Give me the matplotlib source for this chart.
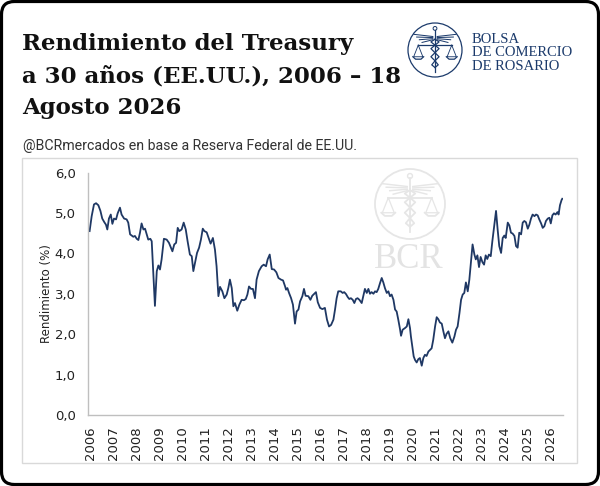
import numpy as np
import matplotlib
matplotlib.use('Agg')
import matplotlib.pyplot as plt
from matplotlib.patches import FancyBboxPatch, Rectangle, Circle
from matplotlib.transforms import ScaledTranslation

# fecha (año decimal) y rendimiento (%)
fecha_06_11 = [2006.07, 2006.16, 2006.26, 2006.35, 2006.45, 2006.54, 2006.62, 2006.71, 2006.78, 2006.84,
               2006.91, 2006.99, 2007.06, 2007.13, 2007.22, 2007.29, 2007.39, 2007.46, 2007.57, 2007.68,
               2007.75, 2007.83, 2007.90, 2007.97, 2008.04, 2008.12, 2008.19, 2008.26, 2008.33, 2008.41,
               2008.48, 2008.55, 2008.62, 2008.71, 2008.77, 2008.84, 2008.91, 2008.99, 2009.06, 2009.13,
               2009.20, 2009.30, 2009.42, 2009.52, 2009.67, 2009.75, 2009.83, 2009.90, 2009.97, 2010.07,
               2010.16, 2010.25, 2010.33, 2010.43, 2010.51, 2010.58, 2010.65, 2010.74, 2010.83, 2010.91,
               2010.99, 2011.06, 2011.16]
rend_06_11 = [4.55, 4.92, 5.21, 5.24, 5.19, 5.05, 4.86, 4.77, 4.71, 4.59,
              4.86, 4.96, 4.73, 4.86, 4.84, 4.99, 5.13, 4.96, 4.86, 4.84,
              4.76, 4.47, 4.44, 4.41, 4.43, 4.36, 4.33, 4.51, 4.74, 4.59,
              4.61, 4.47, 4.34, 4.36, 4.30, 3.52, 2.70, 3.56, 3.70, 3.60,
              3.85, 4.36, 4.34, 4.26, 4.05, 4.22, 4.26, 4.63, 4.55, 4.59,
              4.76, 4.59, 4.30, 3.97, 3.93, 3.56, 3.76, 4.01, 4.14, 4.34,
              4.61, 4.55, 4.52]

fecha_11_16 = [2011.33, 2011.43, 2011.52, 2011.59, 2011.67, 2011.74, 2011.84, 2011.93, 2012.03, 2012.10,
               2012.17, 2012.25, 2012.32, 2012.39, 2012.49, 2012.58, 2012.68, 2012.78, 2012.86, 2012.93,
               2013.00, 2013.09, 2013.17, 2013.26, 2013.33, 2013.43, 2013.55, 2013.64, 2013.74, 2013.81,
               2013.90, 2013.99, 2014.09, 2014.19, 2014.28, 2014.39, 2014.48, 2014.57, 2014.61, 2014.67,
               2014.74, 2014.83, 2014.91, 2015.00, 2015.07, 2015.15, 2015.22, 2015.32, 2015.39, 2015.46,
               2015.58, 2015.67, 2015.75, 2015.84, 2015.91, 2015.99, 2016.09, 2016.19, 2016.30, 2016.39,
               2016.48]
rend_11_16 = [4.24, 4.38, 4.09, 3.68, 2.94, 3.17, 3.06, 2.89, 2.98, 3.14,
              3.35, 3.14, 2.69, 2.77, 2.58, 2.73, 2.85, 2.84, 2.87, 2.98,
              3.18, 3.12, 3.12, 2.89, 3.35, 3.56, 3.68, 3.72, 3.68, 3.85,
              3.97, 3.61, 3.60, 3.53, 3.39, 3.35, 3.33, 3.18, 3.10, 3.14,
              3.02, 2.89, 2.73, 2.26, 2.56, 2.61, 2.81, 2.94, 3.12, 2.95,
              2.94, 2.85, 2.95, 3.00, 3.04, 2.79, 2.65, 2.62, 2.65, 2.36,
              2.19]

fecha_16_21 = [2016.57, 2016.67, 2016.74, 2016.81, 2016.88, 2016.99, 2017.07, 2017.14, 2017.22, 2017.29,
               2017.36, 2017.43, 2017.51, 2017.58, 2017.65, 2017.72, 2017.80, 2017.90, 2017.97, 2018.04,
               2018.12, 2018.19, 2018.26, 2018.33, 2018.41, 2018.48, 2018.55, 2018.62, 2018.70, 2018.77,
               2018.84, 2018.91, 2018.99, 2019.06, 2019.13, 2019.20, 2019.28, 2019.35, 2019.42, 2019.49,
               2019.57, 2019.61, 2019.68, 2019.78, 2019.86, 2019.93, 2020.00, 2020.04, 2020.10, 2020.16,
               2020.22, 2020.29, 2020.36, 2020.43, 2020.51, 2020.58, 2020.65, 2020.72, 2020.80, 2020.87,
               2020.94, 2021.01, 2021.09, 2021.16, 2021.23, 2021.30, 2021.38, 2021.45, 2021.52, 2021.59,
               2021.67]
rend_16_21 = [2.23, 2.36, 2.61, 2.89, 3.06, 3.06, 3.02, 3.04, 2.99, 2.92,
              2.87, 2.89, 2.85, 2.77, 2.87, 2.89, 2.85, 2.77, 2.94, 3.12,
              3.02, 3.12, 3.00, 3.04, 3.00, 3.06, 3.04, 3.12, 3.27, 3.39,
              3.28, 3.14, 3.02, 3.06, 2.94, 2.98, 2.85, 2.61, 2.56, 2.36,
              2.11, 1.96, 2.11, 2.15, 2.19, 2.37, 2.15, 1.94, 1.70, 1.45,
              1.36, 1.30, 1.38, 1.41, 1.22, 1.41, 1.49, 1.46, 1.57, 1.61,
              1.65, 1.86, 2.19, 2.42, 2.37, 2.29, 2.26, 2.07, 1.90, 2.01,
              2.07]

fecha_21_26 = [2021.75, 2021.84, 2021.93, 2022.00, 2022.07, 2022.15, 2022.22, 2022.29, 2022.36, 2022.43,
               2022.51, 2022.58, 2022.65, 2022.72, 2022.80, 2022.86, 2022.93, 2023.00, 2023.07, 2023.15,
               2023.22, 2023.29, 2023.36, 2023.43, 2023.51, 2023.58, 2023.67, 2023.74, 2023.81, 2023.88,
               2023.96, 2024.03, 2024.10, 2024.16, 2024.25, 2024.32, 2024.39, 2024.46, 2024.54, 2024.61,
               2024.68, 2024.75, 2024.83, 2024.90, 2024.97, 2025.04, 2025.12, 2025.19, 2025.26, 2025.33,
               2025.41, 2025.48, 2025.55, 2025.62, 2025.70, 2025.77, 2025.84, 2025.91, 2025.99, 2026.06,
               2026.12, 2026.19, 2026.26, 2026.33, 2026.41, 2026.46, 2026.52, 2026.59, 2026.62]
rend_21_26 = [1.90, 1.79, 1.94, 2.11, 2.19, 2.52, 2.85, 2.98, 3.02, 3.28,
              3.06, 3.35, 3.80, 4.22, 3.97, 3.85, 3.95, 3.66, 3.91, 3.78,
              3.72, 3.95, 3.86, 3.97, 3.93, 4.30, 4.71, 5.05, 4.59, 4.18,
              4.01, 4.38, 4.44, 4.38, 4.76, 4.69, 4.51, 4.49, 4.43, 4.18,
              4.14, 4.51, 4.47, 4.76, 4.80, 4.77, 4.61, 4.71, 4.86, 4.96,
              4.92, 4.96, 4.94, 4.84, 4.74, 4.63, 4.67, 4.80, 4.86, 4.88,
              4.74, 4.94, 4.99, 4.96, 5.02, 4.96, 5.19, 5.32, 5.35]

fecha = fecha_06_11 + fecha_11_16 + fecha_16_21 + fecha_21_26
rend = rend_06_11 + rend_11_16 + rend_16_21 + rend_21_26

anios = list(range(2006, 2027))
yticks = [0, 1, 2, 3, 4, 5, 6]

azul = '#1F3864'
azul_logo = '#1B3A6B'
gris = '#BFBFBF'

W, H = 600, 486
fig = plt.figure(figsize=(W / 100, H / 100), dpi=100)


def fx(px):
    return px / W


def fy(py):
    return 1 - py / H


# borde negro redondeado
fig.patches.append(FancyBboxPatch((0.015, 0.015), 5.97, 4.83,
                                  boxstyle='round,pad=0,rounding_size=0.13',
                                  transform=fig.dpi_scale_trans, lw=2.3,
                                  ec='black', fc='none'))
# marco gris del grafico
fig.patches.append(Rectangle((fx(22), fy(463)), fx(577) - fx(22), fy(158) - fy(463),
                             transform=fig.transFigure, lw=1, ec='#D9D9D9', fc='none'))

# titulo
tit = ['Rendimiento del Treasury', 'a 30 años (EE.UU.), 2006 – 18', 'Agosto 2026']
for i, t in enumerate(tit):
    fig.text(fx(22), fy(50 + i * 32), t, fontsize=16.5, fontweight='bold',
             family='DejaVu Serif', va='baseline', ha='left', color='#111111')
fig.text(fx(23), fy(150), '@BCRmercados en base a Reserva Federal de EE.UU.',
         fontsize=10.2, family='Roboto', va='baseline', ha='left', color='#333333')


def emblema(ax, col, lw):
    ax.add_patch(Circle((0, 0), 1, fill=False, ec=col, lw=lw))
    ax.plot([0, 0], [-0.8, 0.75], color=col, lw=lw)
    ax.add_patch(Circle((0, 0.8), 0.07, fill=False, ec=col, lw=lw * 0.8))
    for k in range(4):
        for s in (-1, 1):
            ax.plot([s * 0.08, s * (0.78 - k * 0.1)], [0.5 - k * 0.04, 0.58 - k * 0.1],
                    color=col, lw=lw * 0.8)
    ax.plot([-0.62, 0.62], [0.18, 0.18], color=col, lw=lw)
    for c in (-0.62, 0.62):
        ax.plot([c, c - 0.17, c + 0.17, c], [0.18, -0.25, -0.25, 0.18], color=col, lw=lw * 0.7)
        ax.plot([c - 0.2, c - 0.1, c + 0.1, c + 0.2], [-0.25, -0.34, -0.34, -0.25], color=col, lw=lw)
    sx = [0.0, 0.15, 0.0, -0.15, 0.0, 0.15, 0.0, -0.12, 0.0]
    sy = [0.4, 0.3, 0.18, 0.05, -0.1, -0.25, -0.4, -0.55, -0.65]
    ax.plot(sx, sy, color=col, lw=lw)
    ax.plot([-v for v in sx], sy, color=col, lw=lw)
    ax.set_xlim(-1.08, 1.08)
    ax.set_ylim(-1.08, 1.08)
    ax.set_aspect('equal')
    ax.axis('off')


# logo superior
r = 27
ax_logo = fig.add_axes([fx(435 - r * 1.08), fy(50 + r * 1.08), fx(2 * r * 1.08), fx(2 * r * 1.08) * W / H])
emblema(ax_logo, azul_logo, 0.9)
for i, t in enumerate(['BOLSA', 'DE COMERCIO', 'DE ROSARIO']):
    fig.text(fx(472), fy(43 + i * 13.5), t, fontsize=10.5, family='Liberation Serif',
             color=azul_logo, va='baseline', ha='left')

# marca de agua
r2 = 35
ax_wm = fig.add_axes([fx(410 - r2 * 1.08), fy(204 + r2 * 1.08), fx(2 * r2 * 1.08), fx(2 * r2 * 1.08) * W / H])
emblema(ax_wm, '#E6E6E6', 1.3)
ax_wm.set_zorder(0)
fig.text(fx(409), fy(260), 'BCR', fontsize=25, family='Liberation Serif',
         color='#E3E3E3', va='center', ha='center', zorder=0)

# grafico
ax = fig.add_axes([fx(88), fy(415), fx(562.5) - fx(88), fy(172.5) - fy(415)])
ax.set_zorder(2)
ax.patch.set_alpha(0)
ax.plot(fecha, rend, color=azul, lw=1.3)
ax.set_xlim(2006.0, 2026.63)
ax.set_ylim(0, 6)
ax.set_yticks(yticks)
ax.set_yticklabels([f'{v:.1f}'.replace('.', ',') for v in yticks])
ax.set_xticks(anios)
ax.set_xticklabels([str(a) for a in anios], rotation=90)
ax.tick_params(axis='both', length=0, labelsize=9.5, colors='#222222')
ax.tick_params(axis='y', pad=9)
ax.tick_params(axis='x', pad=8)
desplazo = ScaledTranslation(0.025, 0, fig.dpi_scale_trans)
for lab in ax.get_xticklabels():
    lab.set_transform(lab.get_transform() + desplazo)
for s in ('top', 'right'):
    ax.spines[s].set_visible(False)
for s in ('left', 'bottom'):
    ax.spines[s].set_color(gris)
    ax.spines[s].set_linewidth(1)
ax.set_ylabel('Rendimiento (%)', fontsize=8.5, color='#222222', labelpad=1)

fig.savefig('out.png', dpi=100, facecolor='white')
